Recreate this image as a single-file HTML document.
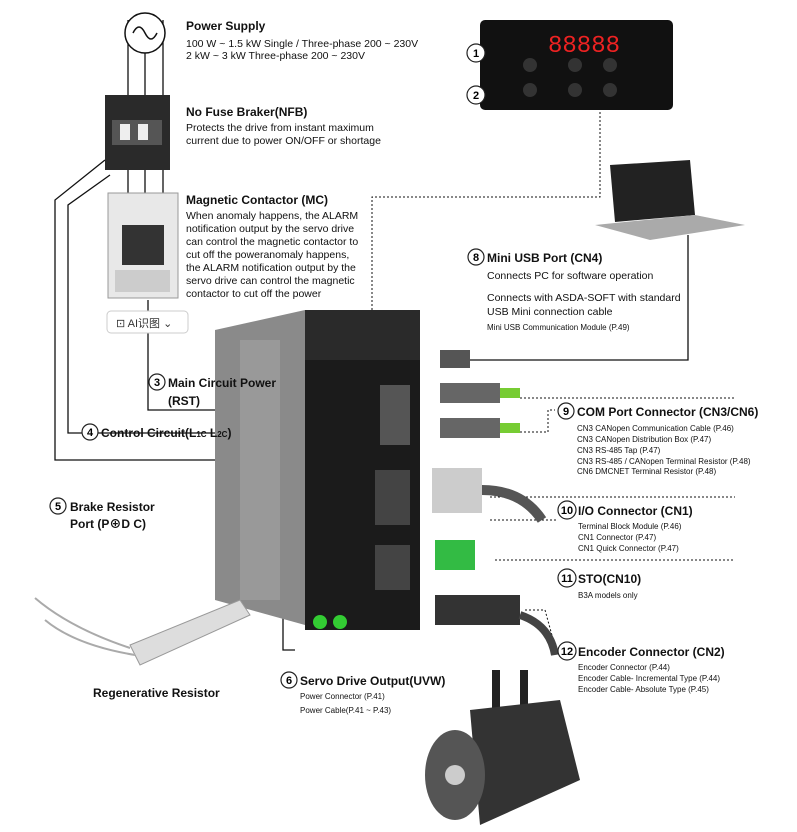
<!DOCTYPE html>
<html><head><meta charset="utf-8"><style>
body{margin:0;background:#fff}
svg{display:block;font-family:"Liberation Sans","Noto Sans CJK SC",sans-serif}
.b{font-weight:bold;font-size:12px;fill:#111}
.t{font-size:10.5px;fill:#111}
.s{font-size:8px;fill:#111}
.n{fill:#fff;stroke:#222;stroke-width:1.2}
.nt{font-size:11px;font-weight:bold;text-anchor:middle}
</style></head><body>
<svg width="797" height="832" viewBox="0 0 797 832">
<!-- wires -->
<g stroke="#111" stroke-width="1.3" fill="none">
<line x1="128" y1="20" x2="128" y2="95"/><line x1="145" y1="20" x2="145" y2="95"/><line x1="163" y1="20" x2="163" y2="95"/>
<line x1="128" y1="170" x2="128" y2="195"/><line x1="145" y1="170" x2="145" y2="195"/><line x1="163" y1="170" x2="163" y2="195"/>
<polyline points="105,160 55,200 55,460 305,460"/>
<polyline points="110,175 68,205 68,433 305,433"/>
<polyline points="148,300 148,410 305,410"/>
<polyline points="283,562 283,650 295,650"/>
<polyline points="470,360 688,360 688,235"/>
</g>
<g stroke="#111" stroke-width="1" fill="none" stroke-dasharray="2,2">
<polyline points="372,310 372,197 600,197 600,112"/>
<polyline points="485,95 513,95"/><polyline points="487,53 510,53"/>
<polyline points="520,398 735,398"/><polyline points="548,432 548,410 555,410"/>
<polyline points="520,432 548,432"/>
<polyline points="490,497 735,497"/><polyline points="490,520 556,520"/>
<polyline points="495,560 735,560"/>
<polyline points="525,610 545,610 556,650"/>
</g>
<!-- power symbol -->
<circle cx="145" cy="33" r="20" fill="#fff" stroke="#111" stroke-width="1.5"/>
<path d="M133,33 q6,-12 12,0 q6,12 12,0" stroke="#111" stroke-width="1.5" fill="none"/>
<!-- NFB -->
<rect x="105" y="95" width="65" height="75" fill="#2a2a2a"/>
<rect x="112" y="120" width="50" height="25" fill="#555"/>
<rect x="120" y="124" width="10" height="16" fill="#eee"/><rect x="138" y="124" width="10" height="16" fill="#eee"/>
<!-- contactor -->
<rect x="108" y="193" width="70" height="105" fill="#e8e8e8" stroke="#999"/>
<rect x="122" y="225" width="42" height="40" fill="#333"/>
<rect x="115" y="270" width="55" height="22" fill="#ccc"/>
<!-- AI button -->
<rect x="107" y="311" width="81" height="22" rx="4" fill="#fff" stroke="#ccc"/>
<text x="116" y="327" font-size="11" fill="#333">⊡ AI识图  ⌄</text>
<!-- drive -->
<polygon points="215,330 305,310 305,625 215,600" fill="#8a8a8a"/>
<rect x="240" y="340" width="40" height="260" fill="#999"/>
<rect x="305" y="310" width="115" height="320" fill="#1b1b1b"/>
<rect x="305" y="310" width="115" height="50" fill="#2a2a2a"/>
<rect x="380" y="385" width="30" height="60" fill="#555"/>
<rect x="375" y="470" width="35" height="55" fill="#444"/>
<rect x="375" y="545" width="35" height="45" fill="#444"/>
<circle cx="320" cy="622" r="7" fill="#3c3"/><circle cx="340" cy="622" r="7" fill="#3c3"/>
<!-- top panel -->
<rect x="480" y="20" width="193" height="90" rx="5" fill="#111"/>
<text x="548" y="52" font-size="24" fill="#e22" font-family="Liberation Mono">88888</text>
<circle cx="575" cy="65" r="7" fill="#333"/><circle cx="610" cy="65" r="7" fill="#333"/><circle cx="530" cy="65" r="7" fill="#333"/>
<circle cx="575" cy="90" r="7" fill="#333"/><circle cx="610" cy="90" r="7" fill="#333"/><circle cx="530" cy="90" r="7" fill="#333"/>
<!-- laptop -->
<polygon points="610,165 690,160 695,215 615,222" fill="#222"/>
<polygon points="595,225 695,215 745,225 650,240" fill="#aaa"/>
<!-- connectors -->
<rect x="440" y="350" width="30" height="18" fill="#555"/>
<rect x="440" y="383" width="60" height="20" fill="#666"/><rect x="500" y="388" width="20" height="10" fill="#7c3"/>
<rect x="440" y="418" width="60" height="20" fill="#666"/><rect x="500" y="423" width="20" height="10" fill="#7c3"/>
<rect x="432" y="468" width="50" height="45" fill="#ccc"/><path d="M482,490 q40,0 60,30" stroke="#555" stroke-width="10" fill="none"/>
<rect x="435" y="540" width="40" height="30" fill="#3b4"/>
<rect x="435" y="595" width="85" height="30" fill="#333"/><path d="M520,615 q30,10 35,40" stroke="#444" stroke-width="8" fill="none"/>
<!-- motor -->
<rect x="492" y="670" width="8" height="40" fill="#222"/><rect x="520" y="670" width="8" height="40" fill="#222"/>
<polygon points="470,710 560,700 580,780 480,825" fill="#333"/>
<ellipse cx="455" cy="775" rx="30" ry="45" fill="#555"/>
<circle cx="455" cy="775" r="10" fill="#ccc"/>
<!-- resistor -->
<polygon points="130,645 240,600 250,615 140,665" fill="#ddd" stroke="#999"/>
<path d="M130,648 q-60,-20 -95,-50 M135,655 q-60,-10 -90,-35" stroke="#aaa" stroke-width="2" fill="none"/>
<!-- number circles -->
<g>
<circle class="n" cx="476" cy="53" r="9"/><text class="nt" x="476" y="57">1</text>
<circle class="n" cx="476" cy="95" r="9"/><text class="nt" x="476" y="99">2</text>
<circle class="n" cx="476" cy="257" r="8"/><text class="nt" x="476" y="261">8</text>
<circle class="n" cx="157" cy="382" r="8"/><text class="nt" x="157" y="386">3</text>
<circle class="n" cx="90" cy="432" r="8"/><text class="nt" x="90" y="436">4</text>
<circle class="n" cx="566" cy="411" r="8"/><text class="nt" x="566" y="415">9</text>
<circle class="n" cx="58" cy="506" r="8"/><text class="nt" x="58" y="510">5</text>
<circle class="n" cx="567" cy="510" r="9"/><text class="nt" x="567" y="514">10</text>
<circle class="n" cx="567" cy="578" r="9"/><text class="nt" x="567" y="582">11</text>
<circle class="n" cx="567" cy="651" r="9"/><text class="nt" x="567" y="655">12</text>
<circle class="n" cx="289" cy="680" r="8"/><text class="nt" x="289" y="684">6</text>
</g>
<!-- labels -->
<text class="b" x="186" y="30">Power Supply</text>
<text class="t" x="186" y="47">100 W ~ 1.5 kW Single / Three-phase 200 ~ 230V</text>
<text class="t" x="186" y="59">2 kW ~ 3 kW Three-phase 200 ~ 230V</text>
<text class="b" x="186" y="116">No Fuse Braker(NFB)</text>
<text class="t" x="186" y="131">Protects the drive from instant maximum</text>
<text class="t" x="186" y="144">current due to power ON/OFF or shortage</text>
<text class="b" x="186" y="204">Magnetic Contactor (MC)</text>
<text class="t" x="186" y="219">When anomaly happens, the ALARM</text>
<text class="t" x="186" y="232">notification output by the servo drive</text>
<text class="t" x="186" y="245">can control the magnetic contactor to</text>
<text class="t" x="186" y="258">cut off the poweranomaly happens,</text>
<text class="t" x="186" y="271">the ALARM notification output by the</text>
<text class="t" x="186" y="284">servo drive can control the magnetic</text>
<text class="t" x="186" y="297">contactor to cut off the power</text>
<text class="b" x="487" y="262">Mini USB Port (CN4)</text>
<text class="t" x="487" y="279">Connects PC for software operation</text>
<text class="t" x="487" y="301">Connects with ASDA-SOFT with standard</text>
<text class="t" x="487" y="315">USB Mini connection cable</text>
<text class="s" x="487" y="330">Mini USB Communication Module (P.49)</text>
<text class="b" x="168" y="387">Main Circuit Power</text>
<text class="b" x="168" y="405">(RST)</text>
<text class="b" x="101" y="437">Control Circuit(L<tspan font-size="8">1C</tspan> L<tspan font-size="8">2C</tspan>)</text>
<text class="b" x="577" y="416">COM Port Connector (CN3/CN6)</text>
<text class="s" x="577" y="431">CN3 CANopen Communication Cable (P.46)</text>
<text class="s" x="577" y="442">CN3 CANopen Distribution Box (P.47)</text>
<text class="s" x="577" y="453">CN3 RS-485 Tap (P.47)</text>
<text class="s" x="577" y="464">CN3 RS-485 / CANopen Terminal Resistor (P.48)</text>
<text class="s" x="577" y="474">CN6 DMCNET Terminal Resistor (P.48)</text>
<text class="b" x="70" y="511">Brake Resistor</text>
<text class="b" x="70" y="528">Port (P⊕D C)</text>
<text class="b" x="578" y="515">I/O Connector (CN1)</text>
<text class="s" x="578" y="529">Terminal Block Module (P.46)</text>
<text class="s" x="578" y="540">CN1 Connector (P.47)</text>
<text class="s" x="578" y="551">CN1 Quick Connector (P.47)</text>
<text class="b" x="578" y="583">STO(CN10)</text>
<text class="s" x="578" y="598">B3A models only</text>
<text class="b" x="578" y="656">Encoder Connector (CN2)</text>
<text class="s" x="578" y="670">Encoder Connector (P.44)</text>
<text class="s" x="578" y="681">Encoder Cable- Incremental Type (P.44)</text>
<text class="s" x="578" y="692">Encoder Cable- Absolute Type (P.45)</text>
<text class="b" x="300" y="685">Servo Drive Output(UVW)</text>
<text class="s" x="300" y="699">Power Connector (P.41)</text>
<text class="s" x="300" y="713">Power Cable(P.41 ~ P.43)</text>
<text class="b" x="93" y="697">Regenerative Resistor</text>
</svg>
</body></html>
